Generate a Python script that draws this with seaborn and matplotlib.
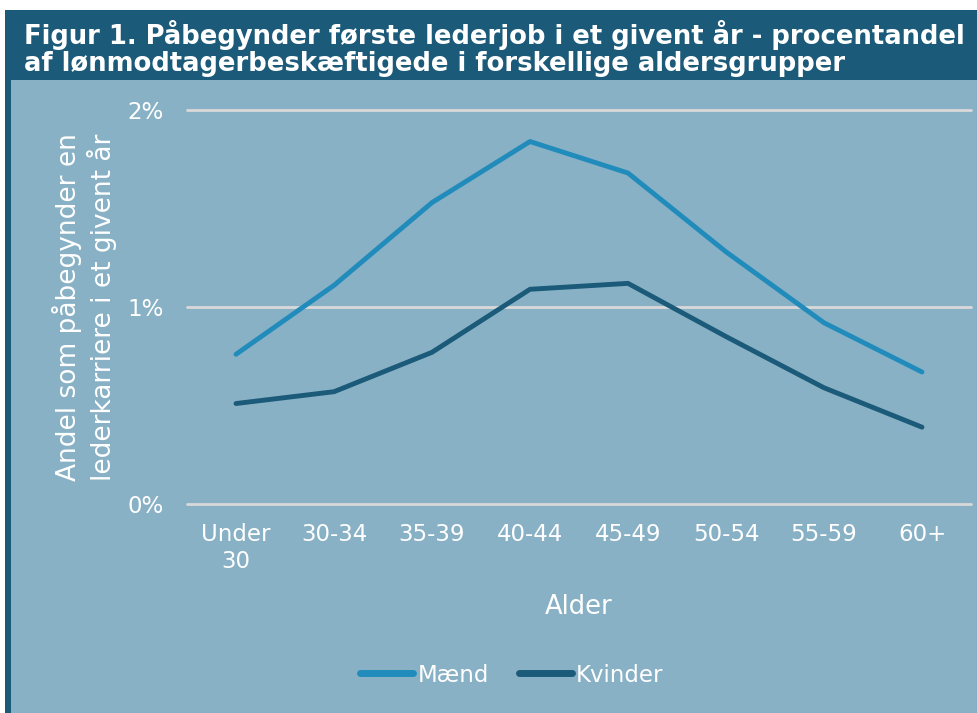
import matplotlib
matplotlib.use("Agg")
import matplotlib.pyplot as plt
import seaborn as sns
import pandas as pd
from matplotlib.patches import Rectangle
from matplotlib.ticker import FuncFormatter

# data (percent)
aldersgrupper = ["Under\n30", "30-34", "35-39", "40-44", "45-49", "50-54", "55-59", "60+"]
maend = [0.76, 1.11, 1.53, 1.84, 1.68, 1.28, 0.92, 0.67]
kvinder = [0.51, 0.57, 0.77, 1.09, 1.12, 0.85, 0.59, 0.39]

DARK = "#1B5A78"
LIGHT = "#88B1C5"
MAEND_COL = "#218CBB"
GRID = "#D9D9D9"

df = pd.DataFrame({
    "Alder": aldersgrupper * 2,
    "Andel": maend + kvinder,
    "Køn": ["Mænd"] * len(maend) + ["Kvinder"] * len(kvinder),
})

sns.set_theme(style="white")
plt.rcParams["font.family"] = ["DejaVu Sans"]

W, H = 977, 713
fig = plt.figure(figsize=(W / 100, H / 100), dpi=100, facecolor="white")

# frame: light panel, dark title band, dark left strip
fig.patches.append(Rectangle((11 / W, 0), 1 - 11 / W, 1 - 80 / H, transform=fig.transFigure,
                             facecolor=LIGHT, edgecolor="none", zorder=-10))
fig.patches.append(Rectangle((5 / W, 1 - 80 / H), 1 - 5 / W, 70 / H, transform=fig.transFigure,
                             facecolor=DARK, edgecolor="none", zorder=-10))
fig.patches.append(Rectangle((5 / W, 0), 6 / W, 1 - 10 / H, transform=fig.transFigure,
                             facecolor=DARK, edgecolor="none", zorder=-10))

fig.text(24 / W, 1 - 35 / H, "Figur 1. Påbegynder første lederjob i et givent år - procentandel",
         color="white", fontsize=18.6, fontweight="bold", va="center", ha="left")
fig.text(24 / W, 1 - 64 / H, "af lønmodtagerbeskæftigede i forskellige aldersgrupper",
         color="white", fontsize=18.6, fontweight="bold", va="center", ha="left")

ax = fig.add_axes([187 / W, 1 - 504 / H, 784 / W, 394 / H])
ax.set_facecolor("none")
ax.set_zorder(2)

sns.lineplot(data=df, x="Alder", y="Andel", hue="Køn", sort=False,
             palette={"Mænd": MAEND_COL, "Kvinder": DARK},
             linewidth=3.5, ax=ax, legend=False)
for ln in ax.lines:
    ln.set_solid_capstyle("round")
    ln.set_solid_joinstyle("round")

ax.set_xlim(-0.5, len(aldersgrupper) - 0.5)
ax.set_ylim(0, 2)
ax.set_yticks([0, 1, 2])
ax.yaxis.set_major_formatter(FuncFormatter(lambda v, p: f"{v:.0f}%"))
ax.grid(axis="y", color=GRID, linewidth=2)
ax.grid(axis="x", visible=False)
ax.set_axisbelow(True)
for gl in ax.get_ygridlines():
    gl.set_clip_on(False)
for s in ax.spines.values():
    s.set_visible(False)

ax.tick_params(axis="both", length=0, colors="white", labelsize=16.5)
ax.tick_params(axis="y", pad=17)
ax.tick_params(axis="x", pad=14)
for t in ax.get_xticklabels():
    t.set_multialignment("center")

ax.set_xlabel("Alder", color="white", fontsize=18.5, labelpad=15)
ax.set_ylabel("Andel som påbegynder en\nlederkarriere i et givent år", color="white",
              fontsize=19, labelpad=7)

handles = [plt.Line2D([], [], color=MAEND_COL, linewidth=5, solid_capstyle="round"),
           plt.Line2D([], [], color=DARK, linewidth=5, solid_capstyle="round")]
leg = fig.legend(handles, ["Mænd", "Kvinder"], loc="center", bbox_to_anchor=(512 / W, 1 - 675 / H),
                 ncol=2, frameon=False, fontsize=16.5, handlelength=2.3, handletextpad=0.2,
                 columnspacing=1.3)
for t in leg.get_texts():
    t.set_color("white")

fig.savefig("out.png", dpi=100, facecolor="white")
